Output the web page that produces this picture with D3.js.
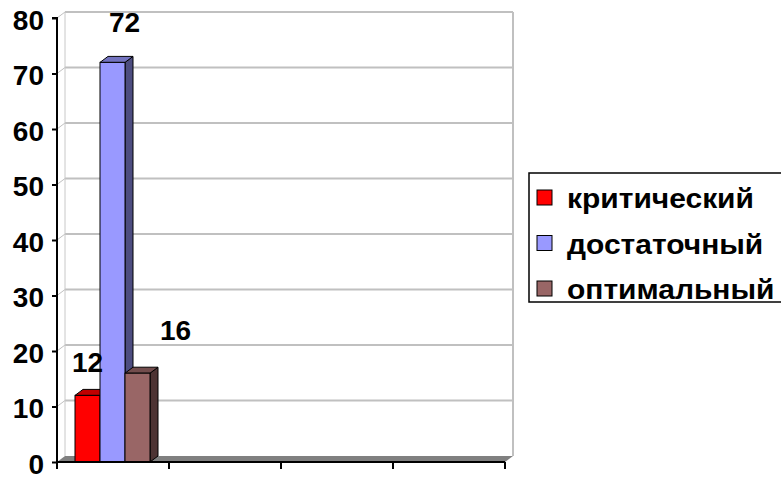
<!DOCTYPE html>
<html>
<head>
<meta charset="utf-8">
<script src="https://cdn.jsdelivr.net/npm/d3@7"></script>
<style>
  body { margin: 0; background: #fff; }
  text { font-family: "Liberation Sans", Arial, sans-serif; font-weight: bold; fill: #000; }
</style>
</head>
<body>
<div id="graphic"></div>
<script>
(function(d3){

    // Canvas size
    let width = 781, height = 477;

    // Data
    let categories = ['1', '2', '3', '4'];
    let series = ['критический', 'достаточный', 'оптимальный'];
    let values = [12, 72, 16];
    let yTicks = [0, 10, 20, 30, 40, 50, 60, 70, 80];

    // Colours: front, side, top
    let fronts = ['#ff0000', '#9999ff', '#996666'];
    let sides = ['#800000', '#4d4d80', '#4d3333'];
    let tops = ['#c00000', '#7373bf', '#734d4d'];

    // Plot area and 3D depth
    let left = 57, right = 505, top = 18, bottom = 462;
    let dx = 8, dy = -6;

    // Label nudges (px) relative to bar centre / top
    let labelShift = [[0, -23], [12, -30], [38, -33]];

    let svg = d3.select('#graphic')
                .append('svg')
                .attr('width', width)
                .attr('height', height);

    let y = d3.scaleLinear().domain([0, 80]).range([bottom, top]);
    let x = d3.scaleBand().domain(categories).range([left, right]);
    let xs = d3.scaleBand().domain(series)
               .range([x(categories[0]) + 18, x(categories[0]) + 93]);

    // Back wall gridlines
    yTicks.forEach(t => {
        if (t === 0) return;
        svg.append('line')
           .attr('x1', left + dx).attr('x2', right + dx)
           .attr('y1', y(t) + dy).attr('y2', y(t) + dy)
           .attr('stroke', '#c0c0c0').attr('stroke-width', 2);
        svg.append('line')
           .attr('x1', left).attr('x2', left + dx)
           .attr('y1', y(t)).attr('y2', y(t) + dy)
           .attr('stroke', '#c0c0c0').attr('stroke-width', 1);
    });

    // Wall edges
    svg.append('line')
       .attr('x1', left + dx).attr('x2', left + dx)
       .attr('y1', y(80) + dy).attr('y2', y(0) + dy)
       .attr('stroke', '#c8c8c8').attr('stroke-width', 1);
    svg.append('line')
       .attr('x1', right + dx).attr('x2', right + dx)
       .attr('y1', y(80) + dy).attr('y2', y(0) + dy)
       .attr('stroke', '#c0c0c0').attr('stroke-width', 2);

    // Floor
    svg.append('path')
       .attr('d', `M${left},${bottom} L${right},${bottom} L${right + dx},${bottom + dy} L${left + dx},${bottom + dy} Z`)
       .attr('fill', '#808080');

    // Bars
    series.forEach((s, i) => {
        let x0 = xs(s), w = xs.bandwidth();
        let y0 = y(0), y1 = y(values[i]);

        svg.append('path')
           .attr('d', `M${x0 + w},${y1} L${x0 + w + dx},${y1 + dy} L${x0 + w + dx},${y0 + dy} L${x0 + w},${y0} Z`)
           .attr('fill', sides[i]).attr('stroke', '#000').attr('stroke-width', 1)
           .attr('stroke-linejoin', 'round');

        svg.append('path')
           .attr('d', `M${x0},${y1} L${x0 + dx},${y1 + dy} L${x0 + w + dx},${y1 + dy} L${x0 + w},${y1} Z`)
           .attr('fill', tops[i]).attr('stroke', '#000').attr('stroke-width', 1)
           .attr('stroke-linejoin', 'round');

        svg.append('rect')
           .attr('x', x0).attr('y', y1)
           .attr('width', w).attr('height', y0 - y1)
           .attr('fill', fronts[i]).attr('stroke', '#000').attr('stroke-width', 1);
    });

    // Value labels
    series.forEach((s, i) => {
        svg.append('text')
           .attr('x', xs(s) + xs.bandwidth() / 2 + labelShift[i][0])
           .attr('y', y(values[i]) + labelShift[i][1])
           .attr('text-anchor', 'middle')
           .style('font-size', '28px')
           .text(values[i]);
    });

    // Y axis
    let yAxis = d3.axisLeft(y).tickValues(yTicks).tickSize(5).tickPadding(8);
    let gy = svg.append('g').attr('transform', `translate(${left},0)`).call(yAxis);
    gy.select('.domain').attr('stroke', '#000').attr('stroke-width', 2)
      .attr('d', `M-5,${top}H0V${bottom}`);
    gy.selectAll('.tick line').attr('stroke', '#000').attr('stroke-width', 2);
    gy.selectAll('.tick text')
      .attr('dy', '0.4em')
      .style('font-size', '28px')
      .style('font-family', '"Liberation Sans", Arial, sans-serif')
      .style('font-weight', 'bold')
      .attr('fill', '#000');

    // X axis (no labels)
    let boundaries = categories.map(c => x(c)).concat([right]);
    svg.append('line')
       .attr('x1', left).attr('x2', right)
       .attr('y1', bottom).attr('y2', bottom)
       .attr('stroke', '#000').attr('stroke-width', 2);
    boundaries.forEach(b => {
        svg.append('line')
           .attr('x1', b).attr('x2', b)
           .attr('y1', bottom).attr('y2', bottom + 7)
           .attr('stroke', '#000').attr('stroke-width', 2);
    });

    // Legend (box runs past the right edge, as in the original)
    let lg = svg.append('g').attr('transform', 'translate(529,173)');
    lg.append('rect')
      .attr('x', 0).attr('y', 0).attr('width', 262).attr('height', 129)
      .attr('fill', '#fff').attr('stroke', '#000').attr('stroke-width', 1.5);
    series.forEach((s, i) => {
        let row = 24 + i * 45.5;
        lg.append('rect')
          .attr('x', 8).attr('y', row - 7).attr('width', 15).attr('height', 15)
          .attr('fill', fronts[i]).attr('stroke', '#000').attr('stroke-width', 1);
        let t = lg.append('text')
          .attr('x', 38).attr('y', row + 11)
          .style('font-size', '28px')
          .text(s);
        // original text is set slightly wider than Liberation Sans
        let len = t.node().getComputedTextLength();
        t.attr('textLength', Math.min(len * 1.07, 212)).attr('lengthAdjust', 'spacingAndGlyphs');
    });

})(window.d3);
</script>
</body>
</html>
